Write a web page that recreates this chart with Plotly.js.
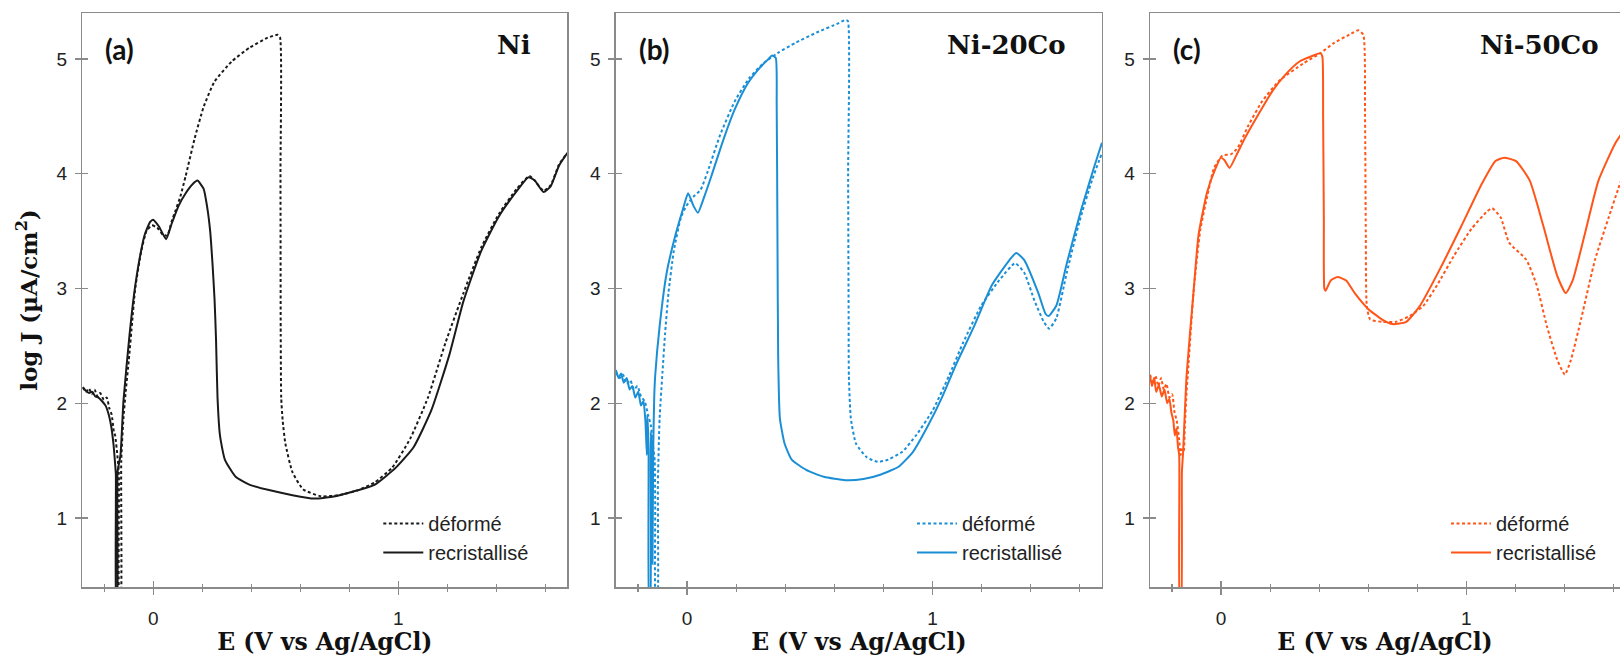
<!DOCTYPE html>
<html><head><meta charset="utf-8">
<script src="https://cdn.plot.ly/plotly-3.0.1.min.js"></script>
<style>html,body{margin:0;padding:0;background:#fff;}#chart{width:1620px;height:656px;}</style>
</head><body><div id="chart"></div>
<script>
// ---------- data (E in V vs Ag/AgCl, log J in µA/cm²) ----------
const panelNames = ["Ni", "Ni-20Co", "Ni-50Co"];
const panelLabels = ["(a)", "(b)", "(c)"];
const seriesNames = ["déformé", "recristallisé"];
const tickVals = [1, 2, 3, 4, 5];

// Panel (a) Ni
const E_a_def = [-0.288,-0.275,-0.263,-0.251,-0.240,-0.228,-0.217,-0.202,-0.190,-0.180,-0.170,-0.161,-0.156,-0.147,-0.141,-0.138,-0.134,-0.131,-0.122,-0.112,-0.100,-0.086,-0.074,-0.049,-0.028,-0.006,0.016,0.038,0.057,0.074,0.089,0.110,0.132,0.169,0.205,0.249,0.321,0.394,0.467,0.507,0.517,0.519,0.520,0.522,0.528,0.539,0.568,0.612,0.685,0.757,0.830,0.903,0.975,1.048,1.121,1.193,1.266,1.339,1.411,1.484,1.535,1.557,1.593,1.622,1.656,1.69];
const J_a_def = [2.14,2.10,2.13,2.08,2.12,2.06,2.09,2.03,2.05,1.96,1.90,1.75,1.72,1.55,1.40,0.2,0.2,1.5,1.87,2.12,2.38,2.72,3.00,3.33,3.50,3.55,3.53,3.47,3.46,3.58,3.67,3.80,3.98,4.31,4.58,4.80,4.98,5.10,5.185,5.21,5.19,4.0,2.6,2.05,1.85,1.65,1.40,1.25,1.19,1.20,1.24,1.31,1.44,1.69,2.05,2.53,2.96,3.36,3.65,3.87,3.98,3.94,3.85,3.90,4.08,4.18];
const E_a_rec = [-0.288,-0.276,-0.262,-0.250,-0.237,-0.224,-0.210,-0.195,-0.182,-0.172,-0.163,-0.157,-0.153,-0.151,-0.148,-0.146,-0.134,-0.122,-0.097,-0.078,-0.057,-0.035,-0.013,-0.001,0.023,0.052,0.074,0.103,0.132,0.161,0.180,0.205,0.219,0.232,0.242,0.250,0.256,0.262,0.272,0.292,0.336,0.394,0.481,0.568,0.656,0.743,0.830,0.903,0.990,1.063,1.135,1.208,1.266,1.339,1.411,1.484,1.531,1.557,1.593,1.622,1.656,1.69];
const J_a_rec = [2.14,2.11,2.09,2.10,2.06,2.05,2.02,1.98,1.90,1.80,1.65,1.50,1.38,0.2,0.2,1.40,1.55,2.02,2.60,2.96,3.25,3.47,3.58,3.60,3.54,3.43,3.56,3.72,3.83,3.91,3.94,3.87,3.72,3.50,3.20,2.90,2.55,2.05,1.72,1.51,1.36,1.29,1.24,1.20,1.17,1.19,1.24,1.29,1.44,1.62,1.94,2.42,2.89,3.33,3.63,3.85,3.97,3.94,3.84,3.89,4.07,4.18];

// Panel (b) Ni-20Co
const E_b_def = [-0.290,-0.275,-0.261,-0.246,-0.231,-0.217,-0.202,-0.188,-0.173,-0.159,-0.147,-0.138,-0.132,-0.130,-0.127,-0.122,-0.119,-0.112,-0.100,-0.090,-0.076,-0.054,-0.025,-0.003,0.026,0.055,0.084,0.135,0.194,0.252,0.310,0.368,0.441,0.528,0.616,0.645,0.655,0.656,0.658,0.659,0.667,0.688,0.732,0.776,0.820,0.878,0.936,1.001,1.067,1.125,1.198,1.271,1.336,1.373,1.416,1.453,1.475,1.504,1.547,1.598,1.649,1.690];
const J_b_def = [2.27,2.22,2.25,2.17,2.20,2.12,2.15,2.06,2.02,1.90,1.80,1.62,1.50,1.10,0.2,0.2,1.30,1.87,2.28,2.60,2.96,3.33,3.62,3.72,3.80,3.86,4.02,4.34,4.63,4.83,4.96,5.05,5.14,5.23,5.31,5.34,5.33,4.0,2.8,2.24,1.87,1.65,1.53,1.49,1.51,1.58,1.73,1.94,2.24,2.53,2.85,3.07,3.22,3.14,2.89,2.71,2.65,2.74,3.14,3.58,3.94,4.18];
const E_b_rec = [-0.290,-0.279,-0.269,-0.258,-0.246,-0.234,-0.223,-0.211,-0.199,-0.188,-0.178,-0.170,-0.164,-0.162,-0.157,-0.154,-0.151,-0.148,-0.144,-0.141,-0.138,-0.134,-0.130,-0.112,-0.083,-0.047,-0.017,0.004,0.026,0.044,0.070,0.099,0.150,0.194,0.245,0.295,0.332,0.346,0.361,0.365,0.368,0.371,0.378,0.397,0.426,0.485,0.557,0.645,0.718,0.790,0.863,0.921,0.980,1.038,1.096,1.169,1.242,1.314,1.341,1.373,1.431,1.460,1.472,1.504,1.547,1.606,1.657,1.690];
const J_b_rec = [2.29,2.22,2.26,2.18,2.22,2.12,2.15,2.05,2.10,1.98,2.02,1.85,1.55,1.90,1.60,0.2,0.2,1.75,1.60,0.6,1.60,2.05,2.24,2.67,3.14,3.47,3.69,3.83,3.72,3.66,3.80,3.98,4.31,4.56,4.78,4.92,5.00,5.03,5.01,4.6,3.5,2.4,1.87,1.65,1.51,1.42,1.36,1.33,1.34,1.38,1.45,1.58,1.80,2.05,2.34,2.67,3.03,3.25,3.31,3.25,2.96,2.78,2.76,2.85,3.22,3.69,4.05,4.27];

// Panel (c) Ni-50Co
const E_c_def = [-0.290,-0.279,-0.268,-0.256,-0.245,-0.234,-0.223,-0.211,-0.200,-0.190,-0.181,-0.172,-0.165,-0.160,-0.153,-0.148,-0.141,-0.134,-0.113,-0.085,-0.057,-0.029,0.006,0.041,0.069,0.111,0.167,0.237,0.335,0.405,0.461,0.531,0.559,0.580,0.587,0.590,0.594,0.608,0.657,0.713,0.769,0.825,0.881,0.951,1.021,1.084,1.105,1.140,1.175,1.245,1.287,1.329,1.371,1.402,1.427,1.469,1.525,1.581,1.620,1.650];
const J_c_def = [2.25,2.18,2.24,2.15,2.22,2.12,2.17,2.05,2.08,1.92,1.85,1.70,1.55,1.60,1.58,1.80,2.10,2.31,2.96,3.51,3.80,4.05,4.16,4.17,4.23,4.42,4.63,4.81,4.96,5.05,5.14,5.22,5.25,5.21,4.5,3.5,2.85,2.73,2.71,2.71,2.76,2.85,3.03,3.29,3.52,3.67,3.70,3.62,3.40,3.25,3.03,2.67,2.38,2.25,2.38,2.74,3.25,3.62,3.87,4.05];
const E_c_rec = [-0.290,-0.282,-0.273,-0.265,-0.254,-0.242,-0.231,-0.220,-0.211,-0.203,-0.195,-0.189,-0.182,-0.176,-0.171,-0.168,-0.164,-0.160,-0.155,-0.141,-0.113,-0.092,-0.057,-0.022,-0.001,0.013,0.034,0.062,0.097,0.153,0.209,0.265,0.321,0.377,0.405,0.413,0.416,0.419,0.421,0.426,0.447,0.475,0.510,0.545,0.601,0.657,0.699,0.755,0.811,0.895,0.979,1.063,1.119,1.154,1.203,1.259,1.315,1.371,1.406,1.434,1.483,1.539,1.609,1.650];
const J_c_rec = [2.24,2.15,2.22,2.10,2.16,2.06,2.12,2.00,2.04,1.92,1.85,1.72,1.78,1.62,1.55,0.2,0.2,1.40,1.58,2.24,2.96,3.47,3.84,4.05,4.14,4.12,4.05,4.16,4.31,4.52,4.72,4.87,4.98,5.03,5.05,5.02,4.5,3.6,3.0,2.98,3.07,3.10,3.07,2.96,2.82,2.73,2.69,2.71,2.85,3.18,3.54,3.91,4.11,4.14,4.11,3.94,3.54,3.11,2.96,3.07,3.47,3.94,4.27,4.40];

// ---------- styling ----------
const colors = ["#1a1a1a", "#1b8fd6", "#ff5518"];
const axisGrey = "#8a8a8a";
const domains = [[0.0508, 0.3502], [0.3802, 0.6802], [0.7099, 1.0]];
const xRanges = [[-0.29, 1.69], [-0.29, 1.69], [-0.29, 1.627]];
const yRange = [0.4, 5.4];
const serifBold = "DejaVu Serif";
const sans = "Liberation Sans, Arial, sans-serif";

const dataSets = [
  [[E_a_def, J_a_def], [E_a_rec, J_a_rec]],
  [[E_b_def, J_b_def], [E_b_rec, J_b_rec]],
  [[E_c_def, J_c_def], [E_c_rec, J_c_rec]]
];

const traces = [];
const layout = {
  width: 1620, height: 656,
  margin: {l: 0, r: 0, t: 13, b: 69, pad: 0},
  paper_bgcolor: "#ffffff", plot_bgcolor: "#ffffff",
  showlegend: true,
  annotations: [],
  font: {family: sans, color: "#222"}
};

const legendLeftPx = [82.3, 616, 1150];

for (let p = 0; p < 3; p++) {
  const sfx = p === 0 ? "" : String(p + 1);
  const xa = "x" + sfx, ya = "y" + sfx;
  const legendId = p === 0 ? "legend" : "legend" + (p + 1);
  for (let s = 0; s < 2; s++) {
    traces.push({
      x: dataSets[p][s][0], y: dataSets[p][s][1],
      xaxis: xa, yaxis: ya,
      type: "scatter", mode: "lines",
      name: seriesNames[s],
      legend: legendId,
      line: {color: colors[p], width: 2, dash: s === 0 ? "3px,2.5px" : "solid", shape: "spline", smoothing: 0.5},
      hoverinfo: "skip"
    });
  }
  layout["xaxis" + sfx] = {
    domain: domains[p], range: xRanges[p], anchor: ya,
    showgrid: false, zeroline: false,
    showline: true, linecolor: axisGrey, linewidth: 1.5, mirror: true,
    tickmode: "linear", tick0: 0, dtick: 1,
    ticks: "outside", ticklen: 6, tickwidth: 1.3, tickcolor: axisGrey,
    minor: {tick0: 0, dtick: 0.2, ticks: "outside", ticklen: 3, tickwidth: 1.3, tickcolor: axisGrey},
    ticklabelstandoff: 8,
    tickfont: {family: sans, size: 19, color: "#222"},
    title: {text: "E (V vs Ag/AgCl)", font: {family: serifBold, size: 23.5, color: "#111", weight: "bold"}, standoff: 6},
    fixedrange: true
  };
  const yax = {
    domain: [0, 1], range: yRange, anchor: xa,
    showgrid: false, zeroline: false,
    showline: true, linecolor: axisGrey, linewidth: 1.5, mirror: p < 2,
    tickmode: "array", tickvals: tickVals, ticktext: tickVals.map(String),
    ticks: "outside", ticklen: 6, tickwidth: 1.3, tickcolor: axisGrey,
    ticklabelstandoff: 4,
    tickfont: {family: sans, size: 19, color: "#222"},
    fixedrange: true
  };
  if (p === 0) {
    yax.title = {text: "log J (µA/cm<sup>2</sup>)", font: {family: serifBold, size: 23, color: "#111", weight: "bold"}, standoff: 12};
  }
  layout["yaxis" + sfx] = yax;
  // overlay axes drawing the inner half of the crossing ticks
  layout["xaxis" + (p + 4)] = {
    overlaying: xa, anchor: ya, range: xRanges[p], domain: domains[p],
    showgrid: false, zeroline: false, showline: false, showticklabels: false,
    tickmode: "linear", tick0: 0, dtick: 1,
    ticks: "inside", ticklen: 6, tickwidth: 1.3, tickcolor: axisGrey,
    minor: {tick0: 0, dtick: 0.2, ticks: "inside", ticklen: 3, tickwidth: 1.3, tickcolor: axisGrey},
    fixedrange: true
  };
  layout["yaxis" + (p + 4)] = {
    overlaying: ya, anchor: xa, range: yRange,
    showgrid: false, zeroline: false, showline: false, showticklabels: false,
    tickmode: "array", tickvals: tickVals,
    ticks: "inside", ticklen: 6, tickwidth: 1.3, tickcolor: axisGrey,
    fixedrange: true
  };
  traces.push({x: [], y: [], xaxis: "x" + (p + 4), yaxis: "y" + (p + 4), type: "scatter", mode: "lines", showlegend: false, hoverinfo: "skip"});

  layout[legendId] = {
    x: (legendLeftPx[p] + 296) / 1620, xref: "paper", xanchor: "left",
    y: (587 - 504) / 574, yref: "paper", yanchor: "top",
    bgcolor: "rgba(0,0,0,0)", borderwidth: 0,
    font: {family: sans, size: 20, color: "#222"},
    itemwidth: 40, traceorder: "normal"
  };
  layout.annotations.push({
    xref: xa, yref: ya, x: -0.205, y: 5.09, xanchor: "left", yanchor: "middle",
    text: "<b>" + panelLabels[p] + "</b>", showarrow: false,
    font: {family: "Lato, Open Sans, sans-serif", size: 28, color: "#111", weight: "bold"}
  });
  layout.annotations.push({
    xref: xa, yref: ya, x: 1.55, y: 5.12, xanchor: "right", yanchor: "middle",
    text: "<b>" + panelNames[p] + "</b>", showarrow: false,
    font: {family: serifBold, size: 26, color: "#111", weight: "bold"}
  });
}

Plotly.newPlot("chart", traces, layout, {displayModeBar: false, responsive: false, staticPlot: true});
</script>
</body></html>
